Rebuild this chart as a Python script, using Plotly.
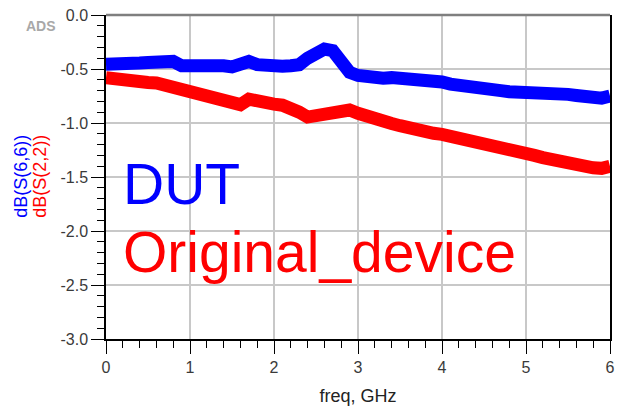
import plotly.graph_objects as go

freq = [round(i * 0.1, 1) for i in range(61)]

dut_s66 = [-0.455, -0.46, -0.45, -0.44, -0.445, -0.44, -0.44, -0.42, -0.43, -0.47,
           -0.465, -0.46, -0.465, -0.47, -0.47, -0.48, -0.47, -0.43, -0.46, -0.475,
           -0.48, -0.475, -0.47, -0.46, -0.40, -0.355, -0.315, -0.33, -0.45, -0.53,
           -0.56, -0.575, -0.585, -0.585, -0.58, -0.585, -0.58, -0.575, -0.585, -0.60,
           -0.62, -0.64, -0.655, -0.67, -0.68, -0.69, -0.695, -0.70, -0.71, -0.71,
           -0.715, -0.72, -0.725, -0.72, -0.725, -0.735, -0.745, -0.755, -0.765, -0.77,
           -0.75]

orig_s22 = [-0.58, -0.595, -0.60, -0.615, -0.62, -0.625, -0.63, -0.65, -0.645, -0.665,
            -0.69, -0.72, -0.73, -0.745, -0.76, -0.79, -0.83, -0.78, -0.785, -0.81,
            -0.825, -0.835, -0.86, -0.90, -0.945, -0.935, -0.915, -0.895, -0.875, -0.88,
            -0.91, -0.94, -0.965, -0.985, -1.005, -1.025, -1.05, -1.07, -1.085, -1.095,
            -1.105, -1.12, -1.14, -1.16, -1.18, -1.20, -1.22, -1.24, -1.255, -1.27,
            -1.28, -1.30, -1.32, -1.34, -1.36, -1.375, -1.39, -1.405, -1.415, -1.42,
            -1.40]

x_ticks = [0, 1, 2, 3, 4, 5, 6]
y_ticks = [0.0, -0.5, -1.0, -1.5, -2.0, -2.5, -3.0]
y_tick_text = ["0.0", "-0.5", "-1.0", "-1.5", "-2.0", "-2.5", "-3.0"]

fig = go.Figure()
fig.add_trace(go.Scatter(x=freq, y=orig_s22, mode="lines",
                         line=dict(color="#FF0000", width=13), showlegend=False))
fig.add_trace(go.Scatter(x=freq, y=dut_s66, mode="lines",
                         line=dict(color="#0000FF", width=13), showlegend=False))

font_fam = "Liberation Sans, Arial, sans-serif"

fig.update_layout(
    width=617, height=411,
    margin=dict(l=106, r=2, t=15, b=72),
    paper_bgcolor="white", plot_bgcolor="white",
    font=dict(family=font_fam, size=16, color="#333333"),
    xaxis=dict(range=[0, 6], tickvals=x_ticks, ticktext=[str(v) for v in x_ticks],
               showgrid=True, gridcolor="#C8C8C8", gridwidth=1.5,
               showline=True, linecolor="black", linewidth=1.5,
               ticks="outside", ticklen=13, tickcolor="black", tickwidth=1,
               minor=dict(dtick=0.2, ticks="outside", ticklen=7, tickcolor="black", showgrid=False),
               zeroline=False, ticklabeloverflow="allow",
               title=dict(text="freq, GHz", font=dict(size=18, color="#222222"), standoff=14),
               tickfont=dict(size=16, color="#3A3A3A")),
    yaxis=dict(range=[-3, 0], tickvals=y_ticks, ticktext=y_tick_text,
               showgrid=True, gridcolor="#C8C8C8", gridwidth=1.5,
               showline=True, linecolor="black", linewidth=1.5, mirror=True,
               ticks="outside", ticklen=13, tickcolor="black", tickwidth=1,
               minor=dict(dtick=0.1, ticks="outside", ticklen=7, tickcolor="black", showgrid=False),
               zeroline=False, ticklabeloverflow="allow",
               tickfont=dict(size=16, color="#3A3A3A")),
)

fig.add_shape(type="line", xref="paper", yref="paper", x0=0, x1=1, y0=1, y1=1,
              line=dict(color="#7F7F7F", width=2.5))

fig.add_annotation(text="dB(S(6,6))", xref="paper", yref="paper",
                   x=(20 - 106) / 509, y=(339 - 176) / 324, textangle=-90,
                   showarrow=False, font=dict(size=18, color="#0000FF", family=font_fam),
                   xanchor="center", yanchor="middle")
fig.add_annotation(text="dB(S(2,2))", xref="paper", yref="paper",
                   x=(39 - 106) / 509, y=(339 - 176) / 324, textangle=-90,
                   showarrow=False, font=dict(size=18, color="#FF0000", family=font_fam),
                   xanchor="center", yanchor="middle")
fig.add_annotation(text="<b>ADS</b>", xref="paper", yref="paper",
                   x=(40 - 106) / 509, y=(339 - 26) / 324,
                   showarrow=False, font=dict(size=14, color="#A8A8A8", family=font_fam),
                   xanchor="center", yanchor="middle")
fig.add_annotation(text="DUT", xref="paper", yref="paper",
                   x=(121 - 106) / 509, y=(339 - 184) / 324,
                   showarrow=False, font=dict(size=57, color="#0000FF", family=font_fam),
                   xanchor="left", yanchor="middle")
fig.add_annotation(text="Original_device", xref="paper", yref="paper",
                   x=(121 - 106) / 509, y=(339 - 252) / 324,
                   showarrow=False, font=dict(size=57, color="#FF0000", family=font_fam),
                   xanchor="left", yanchor="middle")

fig.write_html("out.html", config={"displayModeBar": False},
               post_script="document.body.style.margin='0';")
